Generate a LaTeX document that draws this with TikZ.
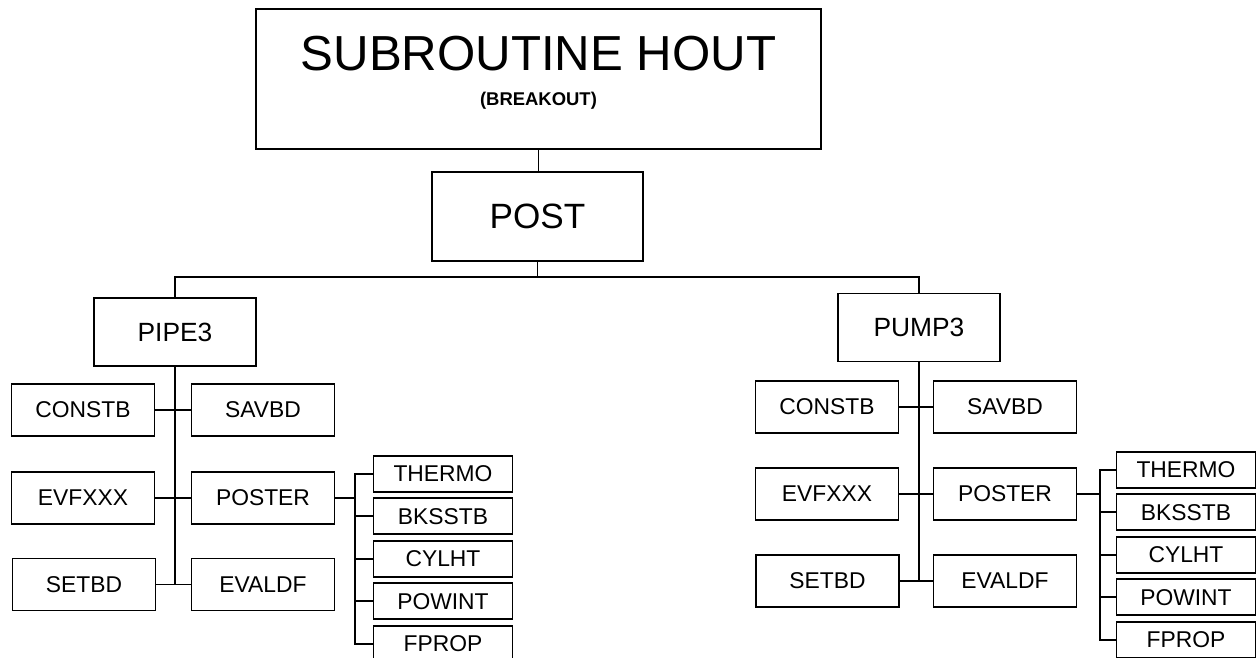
\documentclass[tikz,border=0pt]{standalone}
\usepackage{fontspec}
\setmainfont{Liberation Sans}
\usetikzlibrary{positioning}

\begin{document}
\begin{tikzpicture}[
  x=0.02cm, y=-0.02cm,
  box/.style={draw, line width=1.1pt, fill=white, inner sep=2pt, align=center},
  head/.style={box, minimum width=113mm, minimum height=28mm},
  mainbox/.style={box, minimum width=42.2mm, minimum height=17.8mm,
                  font=\fontsize{20}{24}\selectfont},
  unit/.style={box, minimum width=32.4mm, minimum height=13.6mm,
               font=\fontsize{15}{18}\selectfont},
  leaf/.style={box, minimum width=28.6mm, minimum height=10.4mm,
               font=\fontsize{13}{15}\selectfont},
  sub/.style={box, minimum width=27.8mm, minimum height=7.2mm, inner sep=1pt,
              font=\fontsize{13}{15}\selectfont},
  wire/.style={line width=1.1pt}
]
  \useasboundingbox (0,0) rectangle (1259,657);

  % top of the tree
  \node[head] (hout) at (538.5,79)
    {{\fontsize{28}{30}\selectfont SUBROUTINE HOUT}\\[8pt]
     {\bfseries\fontsize{10.5}{12}\selectfont (BREAKOUT)\rule[-9pt]{0pt}{9pt}}};
  \node[mainbox] (post) at (537.5,216.5) {POST};
  \node[unit] (pipe) at (175,332) {PIPE3};
  \node[unit] (pump) at (919,327.5) {PUMP3};
  \coordinate (bus) at (537,277);

  % PIPE3 branch
  \node[leaf] (constbL) at (83,410) {CONSTB};
  \node[leaf] (savbdL)  at (263,410) {SAVBD};
  \node[leaf] (evfxxxL) at (83,498) {EVFXXX};
  \node[leaf] (posterL) at (263,498) {POSTER};
  \node[leaf] (setbdL)  at (84,584.5) {SETBD};
  \node[leaf] (evaldfL) at (263,584.5) {EVALDF};

  \node[sub] (thermoL) at (443,474) {THERMO};
  \node[sub, below=0.9mm of thermoL] (bksstbL) {BKSSTB};
  \node[sub, below=0.9mm of bksstbL] (cylhtL) {CYLHT};
  \node[sub, below=0.9mm of cylhtL] (powintL) {POWINT};
  \node[sub, below=0.9mm of powintL] (fpropL) {FPROP};

  % PUMP3 branch
  \node[leaf] (constbR) at (827,407) {CONSTB};
  \node[leaf] (savbdR)  at (1005,407) {SAVBD};
  \node[leaf] (evfxxxR) at (827,494) {EVFXXX};
  \node[leaf] (posterR) at (1005,494) {POSTER};
  \node[leaf] (setbdR)  at (827.5,581) {SETBD};
  \node[leaf] (evaldfR) at (1005,581) {EVALDF};

  \node[sub] (thermoR) at (1186,470) {THERMO};
  \node[sub, below=0.9mm of thermoR] (bksstbR) {BKSSTB};
  \node[sub, below=0.9mm of bksstbR] (cylhtR) {CYLHT};
  \node[sub, below=0.9mm of cylhtR] (powintR) {POWINT};
  \node[sub, below=0.9mm of powintR] (fpropR) {FPROP};

  % connectors
  \draw[wire] (hout.south) -- (hout.south |- post.north);
  \draw[wire] (post.south) -- (post.south |- bus);
  \draw[wire] (pipe.north) |- (bus) -| (pump.north);

  \draw[wire] (pipe.south) -- (pipe.south |- setbdL.east);
  \draw[wire] (constbL.east) -- (savbdL.west);
  \draw[wire] (evfxxxL.east) -- (posterL.west);
  \draw[wire] (setbdL.east) -- (evaldfL.west);
  \draw[wire] (posterL.east) -- ++(4mm,0) coordinate (jL);
  \draw[wire] (thermoL.west) -- (thermoL.west -| jL) -- (fpropL.west -| jL) -- (fpropL.west);
  \draw[wire] (bksstbL.west) -- (bksstbL.west -| jL);
  \draw[wire] (cylhtL.west) -- (cylhtL.west -| jL);
  \draw[wire] (powintL.west) -- (powintL.west -| jL);

  \draw[wire] (pump.south) -- (pump.south |- setbdR.east);
  \draw[wire] (constbR.east) -- (savbdR.west);
  \draw[wire] (evfxxxR.east) -- (posterR.west);
  \draw[wire] (setbdR.east) -- (evaldfR.west);
  \draw[wire] (posterR.east) -- ++(4.6mm,0) coordinate (jR);
  \draw[wire] (thermoR.west) -- (thermoR.west -| jR) -- (fpropR.west -| jR) -- (fpropR.west);
  \draw[wire] (bksstbR.west) -- (bksstbR.west -| jR);
  \draw[wire] (cylhtR.west) -- (cylhtR.west -| jR);
  \draw[wire] (powintR.west) -- (powintR.west -| jR);
\end{tikzpicture}
\end{document}
